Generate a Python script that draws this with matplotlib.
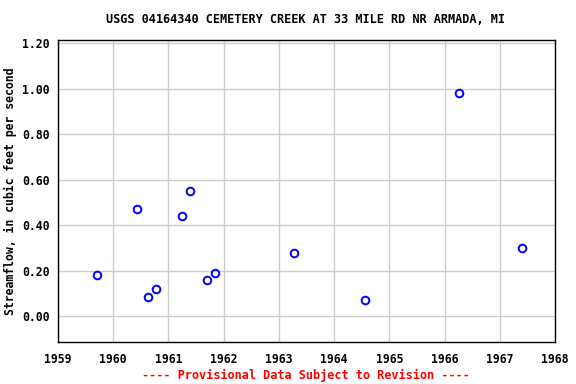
import matplotlib
matplotlib.use("Agg")
import matplotlib.pyplot as plt

years = [1959.70, 1960.43, 1960.63, 1960.77, 1961.24, 1961.39, 1961.69, 1961.84,
         1963.27, 1964.56, 1966.26, 1967.40]
flows = [0.18, 0.47, 0.085, 0.12, 0.44, 0.55, 0.16, 0.19, 0.28, 0.07, 0.98, 0.30]
xticks = list(range(1959, 1969))
yticks = [0.0, 0.2, 0.4, 0.6, 0.8, 1.0, 1.2]

plt.rcParams['font.family'] = ['DejaVu Sans Mono']
plt.rcParams['font.weight'] = 'bold'

fig = plt.figure(figsize=(5.76, 3.84), dpi=100)
ax = fig.add_axes([0.1007, 0.1094, 0.8628, 0.7864])
ax.plot(years, flows, linestyle='none', marker='o', markersize=5.5,
        markerfacecolor='none', markeredgecolor='#0000ff', markeredgewidth=1.4)
ax.set_xlim(1959, 1968)
ax.set_ylim(-0.113, 1.215)
ax.set_xticks(xticks)
ax.set_xticklabels([str(t) for t in xticks], fontsize=8.3, fontweight='bold')
ax.set_yticks(yticks)
ax.set_yticklabels([f"{t:.2f}" for t in yticks], fontsize=8.3, fontweight='bold')
ax.grid(True, color='#cccccc', linewidth=1)
ax.set_axisbelow(True)
ax.tick_params(axis='x', length=0, pad=8)
ax.tick_params(axis='y', length=0, pad=6)
for s in ax.spines.values():
    s.set_linewidth(1)
    s.set_color('black')
ax.set_ylabel('Streamflow, in cubic feet per second', fontsize=8.3, fontweight='bold')
ax.yaxis.set_label_coords(-0.083, 0.5)
fig.text(0.531, 0.95, 'USGS 04164340 CEMETERY CREEK AT 33 MILE RD NR ARMADA, MI',
         ha='center', va='center', fontsize=8.6, fontweight='bold')
fig.text(0.531, 0.022, '---- Provisional Data Subject to Revision ----',
         ha='center', va='center', fontsize=8.6, fontweight='bold', color='red')
fig.savefig('out.png', dpi=100)
